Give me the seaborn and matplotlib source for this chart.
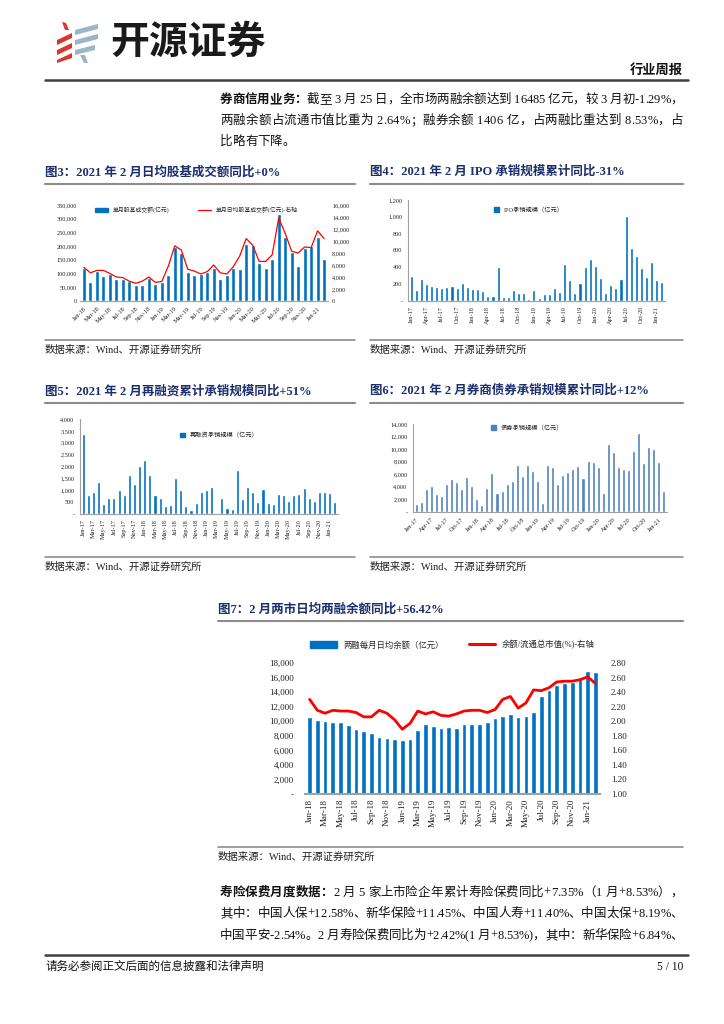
import numpy as np
import pandas as pd
import seaborn as sns
import matplotlib.pyplot as plt
from matplotlib.patches import Polygon, Patch
from matplotlib.lines import Line2D
from matplotlib.ticker import FuncFormatter

W, H = 724, 1024

# ---------------- data ----------------
months_18 = pd.date_range("2018-01-01", periods=38, freq="MS").strftime("%b-%y").tolist()
months_17 = pd.date_range("2017-01-01", periods=50, freq="MS").strftime("%b-%y").tolist()

# 图3 单月股基成交额(亿元) / 单月日均股基成交额(亿元)
stock_turnover = [122000, 68000, 108000, 90000, 97000, 80000, 82000, 72000, 57000, 58000, 85000, 62000,
                  70000, 95000, 198000, 175000, 105000, 95000, 98000, 105000, 120000, 82000, 95000, 120000,
                  118000, 208000, 205000, 140000, 120000, 153000, 318000, 235000, 180000, 128000, 192000, 200000,
                  232000, 152000]
stock_daily = [5600, 4700, 5100, 5100, 4600, 4000, 3900, 3300, 2950, 3300, 4000, 3100,
               3250, 5800, 9200, 8500, 5300, 5000, 4500, 4900, 6000, 4700, 4500, 5700,
               7500, 10400, 9300, 6600, 6600, 7700, 13800, 11300, 8300, 8000, 9000, 8900,
               11700, 10400]

# 图4 IPO承销规模（亿元）
ipo_amount = [300, 130, 260, 205, 175, 165, 150, 165, 180, 155, 215, 165,
              140, 140, 115, 55, 60, 405, 50, 45, 130, 95, 95, 25,
              130, 35, 85, 85, 155, 105, 440, 250, 95, 215, 400, 500,
              415, 270, 95, 185, 155, 260, 1005, 635, 530, 390, 285, 460,
              245, 225]

# 图5 再融资承销规模（亿元）
refin_amount = [3380, 790, 910, 1340, 420, 670, 670, 1000, 800, 1640, 1270, 2020,
                2270, 1640, 810, 670, 350, 380, 1510, 1020, 340, 170, 460, 930,
                990, 1120, 60, 660, 250, 200, 1850, 640, 1150, 930, 500, 1060,
                460, 430, 860, 800, 560, 800, 860, 1100, 690, 560, 930, 930,
                880, 520]

# 图6 债券承销规模（亿元）
bond_amount = [1200, 1600, 3700, 4200, 2800, 2500, 4500, 5200, 4700, 3700, 5500, 4100,
               2000, 1100, 3800, 6200, 3100, 3300, 4400, 5000, 7400, 5700, 7400, 6600,
               4900, 1500, 7400, 7100, 4400, 5900, 6300, 6900, 7300, 5400, 8100, 7900,
               7100, 3100, 10800, 9500, 7100, 6800, 6700, 9700, 12600, 7800, 10300, 10000,
               7900, 3400]

# 图7 两融每月日均余额（亿元） / 余额/流通总市值(%)
margin_balance = [10600, 10200, 10000, 9900, 9900, 9500, 8900, 8600, 8400, 7900, 7700, 7600,
                  7400, 7500, 8800, 9600, 9300, 9100, 9200, 9100, 9600, 9600, 9600, 9950,
                  10450, 10650, 10960, 10600, 10700, 11200, 13500, 14300, 15000, 15200, 15400, 16000,
                  16900, 16700]
margin_ratio = [2.30, 2.15, 2.11, 2.15, 2.14, 2.14, 2.12, 2.06, 2.06, 2.15, 2.11, 2.02,
                1.89, 1.97, 2.14, 2.10, 2.13, 2.08, 2.07, 2.10, 2.14, 2.15, 2.15, 2.12,
                2.16, 2.30, 2.34, 2.18, 2.25, 2.43, 2.42, 2.46, 2.54, 2.55, 2.55, 2.57,
                2.61, 2.52]

BLUE = "#0070C0"
BLUE2 = "#4F81BD"
RED = "#FF0000"
NAVY = "#1C2E6E"
GREY = "#8C8C8C"

sns.set_theme(style="white")
plt.rcParams["font.family"] = ["Liberation Serif", "Noto Sans CJK SC"]
plt.rcParams["axes.unicode_minus"] = False

fig = plt.figure(figsize=(W / 100, H / 100), dpi=100)
fig.patch.set_facecolor("white")
renderer = fig.canvas.get_renderer()


def add_ax(x0, y0, x1, y1):
    return fig.add_axes([x0 / W, 1 - y1 / H, (x1 - x0) / W, (y1 - y0) / H])


def ftext(x, y, s, **kw):
    return fig.text(x / W, 1 - y / H, s, **kw)


def hline(x0, x1, y, lw=1.5, color=GREY):
    fig.add_artist(Line2D([x0 / W, x1 / W], [1 - y / H, 1 - y / H], lw=lw, color=color,
                          transform=fig.transFigure))


def text_line(x, y, parts, fs, x_end=None):
    # place text char by char so a full line can be justified to x_end, like the report
    chars = []
    for s, weight in parts:
        for ch in s:
            t = ftext(0, y, ch, fontsize=fs, fontweight=weight, va="center", ha="left", color="#111111")
            chars.append((t, t.get_window_extent(renderer).width))
    natural = sum(w for _, w in chars)
    gap = 0 if x_end is None else (x_end - x - natural) / max(len(chars) - 1, 1)
    for t, w in chars:
        t.set_x(x / W)
        x += w + gap


def fmt_zero(v, pos):
    return "0" if v == 0 else f"{v:,.0f}"


def fmt_dash(v, pos):
    return "-" if v == 0 else f"{v:,.0f}"


def bar_chart(ax, labels, values, color, width, ymax, step, fmt, fs, left_spine=True):
    df = pd.DataFrame({"month": labels, "value": values})
    sns.barplot(data=df, x="month", y="value", color=color, width=width, saturation=1,
                errorbar=None, ax=ax)
    ax.set_ylim(0, ymax)
    ax.set_yticks(np.arange(0, ymax + 1, step))
    ax.yaxis.set_major_formatter(FuncFormatter(fmt))
    ax.set_xlabel("")
    ax.set_ylabel("")
    for s in ["top", "right"]:
        ax.spines[s].set_visible(False)
    ax.spines["left"].set_visible(left_spine)
    for s in ["left", "bottom"]:
        ax.spines[s].set_color("#A0A0A0")
        ax.spines[s].set_linewidth(0.8)
    ax.tick_params(axis="y", labelsize=fs, length=2 if left_spine else 0, width=0.6,
                   colors="#A0A0A0", labelcolor="#222222", pad=2)
    ax.tick_params(axis="x", labelsize=fs, length=2, width=0.6, colors="#A0A0A0",
                   labelcolor="#222222", pad=1.5)
    ax.set_facecolor("white")


def set_month_ticks(ax, labels, every, rot):
    n = len(labels)
    ticks = list(range(0, n, every))
    ax.set_xticks(ticks)
    if rot == 90:
        ax.set_xticklabels([labels[i] for i in ticks], rotation=90, ha="center", va="top")
    else:
        ax.set_xticklabels([labels[i] for i in ticks], rotation=rot, ha="right", va="top",
                           rotation_mode="anchor")
    ax.set_xlim(-0.6, n - 0.4)


# ---------------- header ----------------
red_bars = [[(57, 40), (72, 33), (72, 38), (57, 45)],
            [(57, 50), (72, 43), (72, 48), (57, 55)],
            [(57, 60), (72, 53), (72, 58), (57, 63)],
            [(62, 22), (66, 23), (69, 30), (65, 30)]]
blue_bars = [[(75, 30), (98, 24), (98, 29), (75, 35)],
             [(75, 40), (98, 34), (98, 39), (75, 45)],
             [(75, 50), (95, 45), (95, 50), (75, 55)],
             [(80, 55), (85, 55), (88, 63), (84, 63)]]
for pts, c in [(p, "#D7382C") for p in red_bars] + [(p, "#9BB5C8") for p in blue_bars]:
    fig.add_artist(Polygon([(x / W, 1 - y / H) for x, y in pts], closed=True, facecolor=c,
                           edgecolor="none", transform=fig.transFigure))
ftext(110, 42, "开源证券", fontsize=28, fontweight="bold", family="Noto Sans CJK SC",
      va="center", ha="left", color="#1A1A1A")
ftext(683, 71, "行业周报", fontsize=9.5, fontweight="bold", va="center", ha="right", color="#111111")
hline(45, 688, 80, lw=1.8, color="#404040")

body_fs = 9.0
text_line(220, 100, [("券商信用业务：", "bold"),
                     ("截至 3 月 25 日，全市场两融余额达到 16485 亿元，较 3 月初-1.29%，", "normal")],
          body_fs, 683)
text_line(220, 121, [("两融余额占流通市值比重为 2.64%；融券余额 1406 亿，占两融比重达到 8.53%，占", "normal")],
          body_fs, 683)
text_line(220, 142, [("比略有下降。", "normal")], body_fs)

# ---------------- titles / sources ----------------
titles = [(45, 172, 355, "图3：2021 年 2 月日均股基成交额同比+0%"),
          (370, 172, 683, "图4：2021 年 2 月 IPO 承销规模累计同比-31%"),
          (45, 391, 355, "图5：2021 年 2 月再融资累计承销规模同比+51%"),
          (370, 391, 683, "图6：2021 年 2 月券商债券承销规模累计同比+12%"),
          (218, 609, 683, "图7：2 月两市日均两融余额同比+56.42%")]
for x, y, x1, s in titles:
    ftext(x, y, s, fontsize=9, fontweight="bold", color=NAVY, va="center", ha="left")
    hline(x, x1, y + 12, lw=1.5)

sources = [(45, 350, 355), (370, 350, 683), (45, 567, 355), (370, 567, 683), (218, 857, 683)]
for x, y, x1 in sources:
    hline(x, x1, y - 10, lw=1.2)
    ftext(x, y, "数据来源：Wind、开源证券研究所", fontsize=7.5, va="center", ha="left", color="#222222")

# ---------------- 图3 ----------------
ax3 = add_ax(80, 205, 328, 301)
bar_chart(ax3, months_18, stock_turnover, BLUE, 0.6, 350000, 50000, fmt_zero, 4.5, left_spine=False)
ax3b = ax3.twinx()
sns.lineplot(x=np.arange(len(stock_daily)), y=stock_daily, color=RED, lw=0.9, ax=ax3b)
ax3b.set_ylim(0, 16000)
ax3b.set_yticks(np.arange(0, 16001, 2000))
ax3b.yaxis.set_major_formatter(FuncFormatter(fmt_zero))
ax3b.tick_params(axis="y", labelsize=4.5, length=0, labelcolor="#222222", pad=3)
for s in ["top", "right", "left", "bottom"]:
    ax3b.spines[s].set_visible(False)
ax3b.set_ylabel("")
set_month_ticks(ax3, months_18, 2, 45)
ax3.legend(handles=[Patch(color=BLUE, label="单月股基成交额(亿元)"),
                    Line2D([], [], color=RED, lw=0.9, label="单月日均股基成交额(亿元)-右轴")],
           loc="upper center", bbox_to_anchor=(0.47, 1.04), ncol=2, fontsize=4.2, frameon=False,
           handlelength=2.2, handleheight=0.8, columnspacing=5)

# ---------------- 图4 ----------------
ax4 = add_ax(408, 200, 665, 301)
bar_chart(ax4, months_17, ipo_amount, BLUE, 0.6, 1200, 200, fmt_dash, 4.5)
set_month_ticks(ax4, months_17, 3, 90)
ax4.legend(handles=[Patch(color=BLUE, label="IPO承销规模（亿元）")], loc="upper center",
           bbox_to_anchor=(0.47, 0.99), fontsize=4.5, frameon=False, handlelength=0.8, handleheight=0.8)

# ---------------- 图5 ----------------
ax5 = add_ax(80, 419, 338, 514)
bar_chart(ax5, months_17, refin_amount, BLUE, 0.6, 4000, 500, fmt_dash, 4.5)
set_month_ticks(ax5, months_17, 2, 90)
ax5.legend(handles=[Patch(color=BLUE, label="再融资承销规模（亿元）")], loc="upper center",
           bbox_to_anchor=(0.54, 0.92), fontsize=4.5, frameon=False, handlelength=0.8, handleheight=0.8)

# ---------------- 图6 ----------------
ax6 = add_ax(413, 424, 667, 512)
bar_chart(ax6, months_17, bond_amount, BLUE2, 0.6, 14000, 2000, fmt_dash, 4.5)
set_month_ticks(ax6, months_17, 3, 45)
ax6.legend(handles=[Patch(color=BLUE2, label="债券承销规模（亿元）")], loc="upper center",
           bbox_to_anchor=(0.45, 1.06), fontsize=4.5, frameon=False, handlelength=0.8, handleheight=0.8)

# ---------------- 图7 ----------------
ax7 = add_ax(305, 663, 600, 794)
bar_chart(ax7, months_18, margin_balance, BLUE, 0.6, 18000, 2000, fmt_dash, 6.5, left_spine=False)
ax7.spines["bottom"].set_linewidth(1.5)
ax7b = ax7.twinx()
sns.lineplot(x=np.arange(len(margin_ratio)), y=margin_ratio, color=RED, lw=2.0, ax=ax7b)
ax7b.set_ylim(1.0, 2.8)
ax7b.set_yticks(np.arange(1.0, 2.81, 0.2))
ax7b.yaxis.set_major_formatter(FuncFormatter(lambda v, p: f"{v:.2f}"))
ax7b.tick_params(axis="y", labelsize=6.5, length=0, labelcolor="#222222", pad=8)
for s in ["top", "right", "left", "bottom"]:
    ax7b.spines[s].set_visible(False)
ax7b.set_ylabel("")
ax7.tick_params(axis="y", pad=8)
set_month_ticks(ax7, months_18, 2, 90)
ax7.legend(handles=[Patch(color=BLUE, label="两融每月日均余额（亿元）"),
                    Line2D([], [], color=RED, lw=2.2, label="余额/流通总市值(%)-右轴")],
           loc="upper center", bbox_to_anchor=(0.5, 1.23), ncol=2, fontsize=6, frameon=False,
           handlelength=3.2, handleheight=0.9, columnspacing=3)

# ---------------- bottom text / footer ----------------
text_line(220, 893, [("寿险保费月度数据：", "bold"),
                     ("2 月 5 家上市险企年累计寿险保费同比+7.35%（1 月+8.53%），", "normal")], body_fs, 683)
text_line(220, 914, [("其中：中国人保+12.58%、新华保险+11.45%、中国人寿+11.40%、中国太保+8.19%、", "normal")],
          body_fs, 683)
text_line(220, 936, [("中国平安-2.54%。2 月寿险保费同比为+2.42%(1 月+8.53%)，其中：新华保险+6.84%、", "normal")],
          body_fs, 683)

hline(45, 688, 955, lw=1.8, color="#404040")
ftext(45, 967, "请务必参阅正文后面的信息披露和法律声明", fontsize=8.3, va="center", ha="left", color="#111111")
ftext(683, 967, "5 / 10", fontsize=8.3, va="center", ha="right", color="#111111")

fig.savefig("out.png", dpi=100, facecolor="white")
